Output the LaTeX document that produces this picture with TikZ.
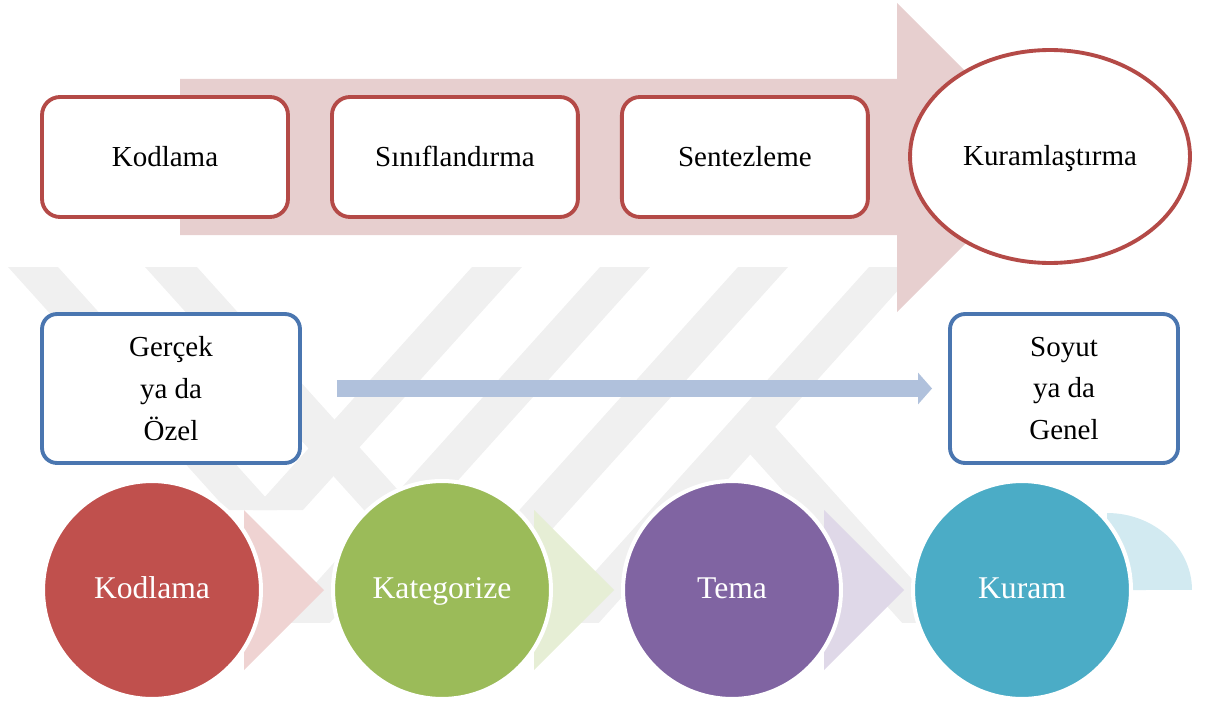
\documentclass[tikz,border=0pt]{standalone}
\usepackage{fontspec}
\setmainfont{Liberation Serif}
\usetikzlibrary{positioning,arrows.meta,shapes.geometric}
\definecolor{kodcolor}{RGB}{192, 80, 77}
\definecolor{katcolor}{RGB}{155, 187, 89}
\definecolor{temacolor}{RGB}{128, 100, 162}
\definecolor{kuramcolor}{RGB}{75, 172, 198}
\definecolor{stepred}{RGB}{180, 74, 71}
\definecolor{levelblue}{RGB}{74, 118, 176}
\definecolor{bigarrowcolor}{RGB}{231, 207, 207}
\definecolor{flowcolor}{RGB}{176, 193, 220}
\definecolor{wmcolor}{RGB}{240, 240, 240}

\tikzset{
    stepbox/.style={draw=stepred, line width=2.2pt, fill=white,
        rounded corners=0.36cm, minimum width=4.92cm, minimum height=2.4cm,
        inner sep=0pt, outer sep=0pt, text height=11pt, text depth=0pt,
        font=\fontsize{16.5}{20}\selectfont},
    theorynode/.style={ellipse, draw=stepred, line width=2.2pt, fill=white,
        minimum width=5.6cm, minimum height=4.26cm, inner sep=0pt,
        text height=10pt, text depth=0pt,
        font=\fontsize{16.5}{20}\selectfont},
    levelbox/.style={draw=levelblue, line width=2.2pt, fill=white,
        rounded corners=0.3cm, minimum height=2.98cm, inner sep=0pt,
        outer sep=0pt, align=center, font=\fontsize{16.5}{23.8}\selectfont},
    flowarrow/.style={draw=flowcolor, line width=0.34cm,
        -{Triangle[length=0.28cm, width=0.62cm]},
        shorten <=0.74cm, shorten >=0.36cm},
    stagecircle/.style={circle, draw=white, line width=2.3pt,
        minimum size=4.36cm, inner sep=0pt, text=white,
        text height=9.6pt, text depth=0pt,
        font=\fontsize{18}{22}\selectfont}
}

\begin{document}
\begin{tikzpicture}[x=0.02cm, y=-0.02cm]
\useasboundingbox (0,0) rectangle (1213,706);

% watermark
\begin{scope}
\clip (0,260) rectangle (1213,622);
\fill[wmcolor] (8,267) -- (58,267) -- (277,510) -- (227,510) -- cycle;
\fill[wmcolor] (145,267) -- (197,267) -- (443,540) -- (391,540) -- cycle;
\fill[wmcolor] (472,267) -- (522,267) -- (303,510) -- (253,510) -- cycle;
\foreach \x in {600,738,869}
    \fill[wmcolor] (\x,267) -- (\x+50,267) -- (\x-345,706) -- (\x-395,706) -- cycle;
\fill[wmcolor] (750,399) -- (1026,706) -- (977,706) -- (740,443) -- cycle;
\end{scope}

% big arrow
\fill[bigarrowcolor] (180,79) -- (897,79) -- (897,3) -- (1052,157.5)
    -- (897,312) -- (897,235) -- (180,235) -- cycle;

% steps
\node[stepbox] (kodlama) at (165,157) {Kodlama};
\node[stepbox, right=0.88cm of kodlama] (sinif) {Sınıflandırma};
\node[stepbox, right=0.88cm of sinif] (sentez) {Sentezleme};
\node[theorynode] (kuramlas) at (1050,156.5) {Kuramlaştırma};

% concrete to abstract
\node[levelbox, minimum width=5.16cm] (gercek) at (171,388.5) {Gerçek\\ya da\\Özel};
\node[levelbox, minimum width=4.56cm] (soyut) at (1064,388.5) {Soyut\\ya da\\Genel};
\draw[flowarrow] (gercek.east) -- (soyut.west);

% stages
\foreach \col [count=\i from 0] in {kodcolor, katcolor, temacolor}
    \fill[\col!25] ({244+\i*290},510) -- ({324+\i*290},590) -- ({244+\i*290},670) -- cycle;
\fill[kuramcolor!25] (1107,590) -- (1107,513)
    arc[start angle=90, end angle=0, x radius=1.7cm, y radius=1.54cm] -- cycle;
\foreach \name/\txt/\col [count=\i from 0] in {kod/Kodlama/kodcolor,
        kat/Kategorize/katcolor, tema/Tema/temacolor, kuram/Kuram/kuramcolor}
    \node[stagecircle, fill=\col] (\name) at ({152+\i*290},590) {\txt};
\end{tikzpicture}
\end{document}
